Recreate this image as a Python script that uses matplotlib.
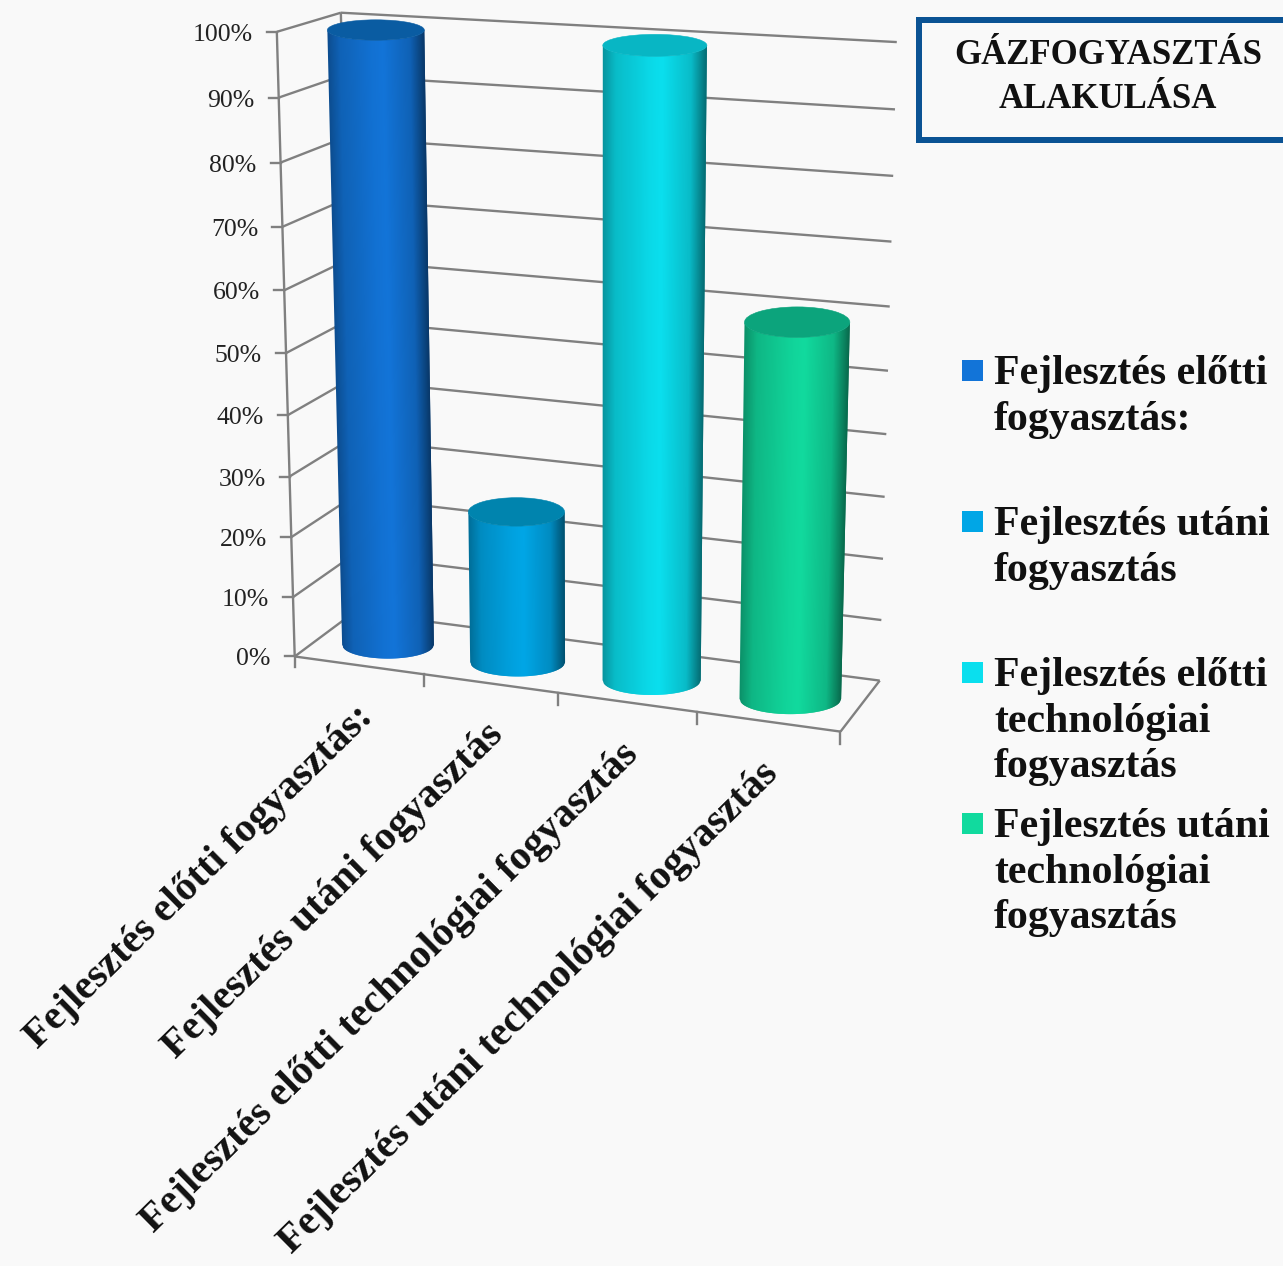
import numpy as np
import matplotlib
matplotlib.use("Agg")
import matplotlib.pyplot as plt
from matplotlib.patches import Ellipse, Rectangle
from matplotlib.collections import PolyCollection

# chart data
categories = ["Fejlesztés előtti fogyasztás:", "Fejlesztés utáni fogyasztás",
              "Fejlesztés előtti technológiai fogyasztás", "Fejlesztés utáni technológiai fogyasztás"]
values = [99.5, 25, 99.5, 59.5]
value_ticks = [0, 10, 20, 30, 40, 50, 60, 70, 80, 90, 100]
tick_labels = ["0%", "10%", "20%", "30%", "40%", "50%", "60%", "70%", "80%", "90%", "100%"]
legend_labels = ["Fejlesztés előtti\nfogyasztás:", "Fejlesztés utáni\nfogyasztás",
                 "Fejlesztés előtti\ntechnológiai\nfogyasztás", "Fejlesztés utáni\ntechnológiai\nfogyasztás"]
title_lines = ["GÁZFOGYASZTÁS", "ALAKULÁSA"]

# face colour, top colour
bar_colors = ["#1274d8", "#00a6e6", "#0adfee", "#11da9e"]
top_colors = ["#0a5ca2", "#0084ae", "#08b6c4", "#0ca47c"]

GRID = "#808080"
BG = "#f9f9f9"
SERIF = "Liberation Serif"

# camera: (category, depth, value) -> screen, fitted on the box corners
box_world = [(0, 0, 0), (0, 0, 50), (0, 0, 100), (0, 1, 0), (0, 1, 100),
             (4, 1, 0), (4, 1, 50), (4, 1, 100), (4, 0, 0)]
box_screen = [(296, 657), (285, 352), (277, 32), (354, 612), (341, 13),
              (880, 680), (888, 371), (897, 42), (840, 732)]


def fit_camera(world, screen):
    rows, rhs = [], []
    for (x, y, z), (u, v) in zip(world, screen):
        rows.append([x, y, z, 1, 0, 0, 0, 0, -u * x, -u * y, -u * z])
        rows.append([0, 0, 0, 0, x, y, z, 1, -v * x, -v * y, -v * z])
        rhs += [u, v]
    p = np.linalg.lstsq(np.array(rows, float), np.array(rhs, float), rcond=None)[0]
    return np.append(p, 1).reshape(3, 4)


CAM = fit_camera(box_world, box_screen)


def project(x, y, z):
    h = CAM @ np.array([x, y, z, 1.0])
    return h[0] / h[2], h[1] / h[2]


def line3d(ax, a, b, z=2):
    pa, pb = project(*a), project(*b)
    ax.plot([pa[0], pb[0]], [pa[1], pb[1]], color=GRID, lw=1.7, zorder=z, solid_capstyle="butt")


def shade(hex_color, u):
    # darker towards the silhouette, the right side a bit more
    f = np.interp(u, [-1, -0.75, -0.1, 0.15, 0.7, 1], [0.66, 0.84, 0.97, 1.0, 0.84, 0.48])
    rgb = np.array(matplotlib.colors.to_rgb(hex_color))
    return tuple(rgb * f)


def cylinder(ax, pos, value, color, top_color, z):
    radius = 0.36
    depth = 0.45
    cb = project(pos, depth, 0)
    ct = project(pos, depth, value)
    wb = abs(project(pos + radius, depth, 0)[0] - project(pos - radius, depth, 0)[0]) / 2
    wt = abs(project(pos + radius, depth, value)[0] - project(pos - radius, depth, value)[0]) / 2
    kb = 0.30
    kt = np.interp(value, [0, 60, 100], [0.30, 0.29, 0.21])
    us = np.linspace(-1, 1, 91)
    polys, cols = [], []
    # every strip runs two steps wide so the next one covers its right edge
    for i in range(len(us) - 1):
        a, b = us[i], us[min(i + 2, len(us) - 1)]
        ya_t = ct[1] + kt * wt * np.sqrt(1 - a * a)
        yb_t = ct[1] + kt * wt * np.sqrt(1 - b * b)
        ya_b = cb[1] + kb * wb * np.sqrt(1 - a * a)
        yb_b = cb[1] + kb * wb * np.sqrt(1 - b * b)
        polys.append([(ct[0] + a * wt, ya_t), (ct[0] + b * wt, yb_t),
                      (cb[0] + b * wb, yb_b), (cb[0] + a * wb, ya_b)])
        cols.append(shade(color, (us[i] + us[i + 1]) / 2))
    ax.add_collection(PolyCollection(polys, facecolors=cols, edgecolors="none", zorder=z))
    ax.add_patch(Ellipse(ct, 2 * wt, 2 * kt * wt, fc=top_color, ec=top_color, lw=0.4, zorder=z + 0.1))


fig = plt.figure(figsize=(12.83, 12.66), dpi=100, facecolor=BG)
ax = fig.add_axes([0, 0, 1, 1])
ax.set_xlim(0, 1283)
ax.set_ylim(1266, 0)
ax.axis("off")

# walls and floor
line3d(ax, (0, 0, 0), (0, 0, 100))
line3d(ax, (0, 1, 0), (0, 1, 100))
line3d(ax, (0, 0, 0), (4, 0, 0))
line3d(ax, (4, 0, 0), (4, 1, 0))
for v, lab in zip(value_ticks, tick_labels):
    line3d(ax, (0, 0, v), (0, 1, v))
    line3d(ax, (0, 1, v), (4, 1, v))
    px, py = project(0, 0, v)
    ax.plot([px - 10, px], [py, py], color=GRID, lw=1.7, zorder=2)
    ax.text(px - 24, py + 3, lab, ha="right", va="center", fontsize=18.5, family=SERIF, color="#222222")

# axis stub below the corner and category ticks
px, py = project(0, 0, 0)
ax.plot([px, px], [py, py + 11], color=GRID, lw=1.7, zorder=2)
for i in range(1, 5):
    px, py = project(i, 0, 0)
    ax.plot([px, px], [py, py + 12], color=GRID, lw=1.7, zorder=2)

# cylinders
for i, (val, c, tc) in enumerate(zip(values, bar_colors, top_colors)):
    cylinder(ax, i + 0.52, val, c, tc, 3 + i)

# category labels, their right end sits left of the tick
for i, cat in enumerate(categories):
    px, py = project(i + 1, 0, 0)
    ax.text(px - 69 - 4 * i, py + 24, cat, rotation=44.5, rotation_mode="anchor", ha="right", va="top",
            fontsize=29.6, fontweight="bold", family=SERIF, color="#111111")

# title box runs off the right edge
ax.add_patch(Rectangle((916, 17), 400, 126, fc="#0b5394", ec="none", zorder=5))
ax.add_patch(Rectangle((922, 23), 400, 114, fc=BG, ec="none", zorder=5.1))
for y, line in zip([55, 100], title_lines):
    ax.text(1108, y, line, ha="center", va="center", fontsize=25, fontweight="bold",
            family=SERIF, color="#111111", zorder=6)

# legend
legend_y = [371, 522, 673, 824]
for y0, lab, c in zip(legend_y, legend_labels, bar_colors):
    ax.add_patch(Rectangle((962, y0 - 11), 21, 21, fc=c, ec="none", zorder=5))
    for j, line in enumerate(lab.split("\n")):
        ax.text(994, y0 + 3 + j * 45.7, line, ha="left", va="center", fontsize=30.2, fontweight="bold",
                family=SERIF, color="#111111")

fig.savefig("out.png", dpi=100, facecolor=BG)
